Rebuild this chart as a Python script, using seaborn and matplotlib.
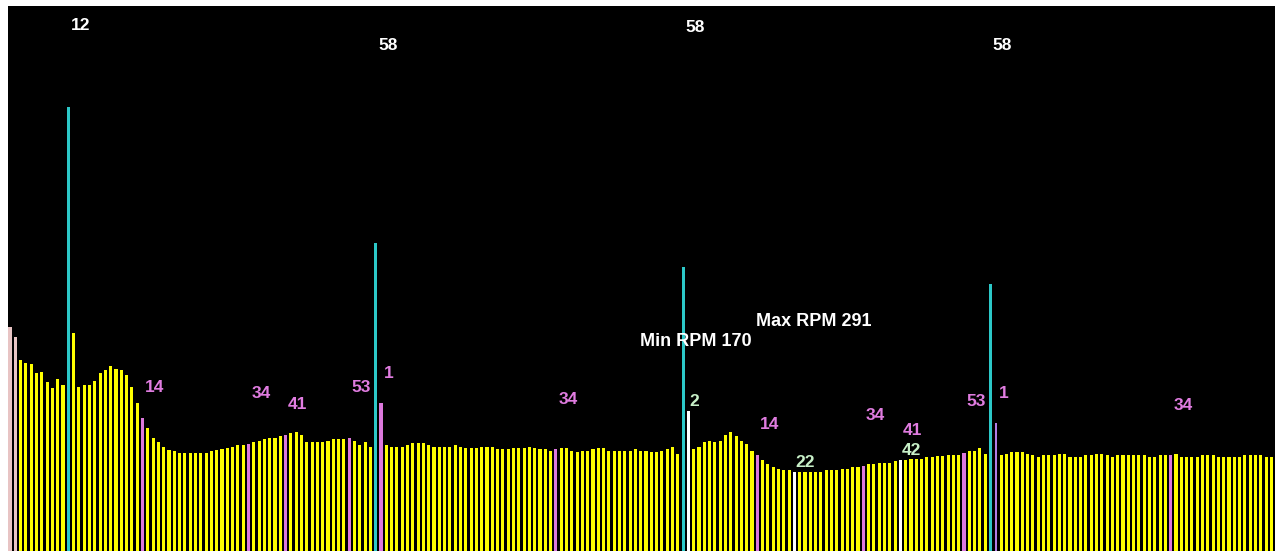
import matplotlib
matplotlib.use("Agg")
import matplotlib.pyplot as plt
import seaborn as sns
import pandas as pd

# Tooth-to-tooth period for every crank tooth, in display units
tooth_period = [
    224, 214, 191, 188, 187, 178, 179, 169, 163, 172, 166, 444, 218, 164, 166, 166,
    170, 178, 181, 185, 182, 181, 176, 164, 148, 133, 123, 113, 109, 104, 101, 100,
    98, 98, 98, 98, 98, 98, 100, 101, 102, 103, 104, 106, 106, 107, 109, 110,
    112, 113, 113, 115, 116, 118, 119, 116, 109, 109, 109, 109, 110, 112, 112, 112,
    113, 110, 106, 109, 104, 308, 148, 106, 104, 104, 104, 106, 108, 108, 108, 106,
    104, 104, 104, 104, 106, 104, 103, 103, 103, 104, 104, 104, 102, 102, 102, 103,
    103, 103, 104, 103, 102, 102, 100, 102, 103, 103, 100, 99, 100, 100, 102, 103,
    103, 100, 100, 100, 100, 100, 102, 100, 100, 99, 99, 100, 102, 104, 97, 284,
    140, 102, 104, 109, 110, 109, 110, 116, 119, 115, 110, 107, 100, 96, 91, 87,
    84, 82, 81, 81, 79, 79, 79, 79, 79, 79, 81, 81, 81, 82, 82, 84,
    84, 85, 87, 87, 88, 88, 88, 90, 91, 91, 92, 92, 92, 94, 94, 95,
    95, 96, 96, 96, 98, 100, 100, 103, 97, 267, 128, 96, 97, 99, 99, 99,
    97, 96, 94, 96, 96, 96, 97, 97, 94, 94, 94, 96, 96, 97, 97, 96,
    94, 96, 96, 96, 96, 96, 96, 94, 94, 96, 96, 96, 97, 94, 94, 94,
    94, 96, 96, 96, 94, 94, 94, 94, 94, 96, 96, 96, 96, 94, 94,
]

# Tooth categories
start_teeth = [0, 1]
gap_teeth = [11, 69, 127, 185]
marked_teeth = [25, 45, 52, 64, 70, 103, 141, 161, 180, 219]
sync_tooth = [186]
event_teeth = [128, 148, 168]

# Gap counts written above the missing-tooth markers
gap_text = ["12", "58", "58", "58"]
gap_text_height = [525, 505, 523, 505]

# Marked tooth numbers
mark_bars = [25, 45, 52, 64, 70, 103, 141, 161, 168, 180, 186, 219]
mark_text = ["14", "34", "41", "53", "1", "34", "14", "34", "41", "53", "1", "34"]
mark_height = [163, 158, 146.5, 164, 178, 152, 126.3, 135, 120.7, 149, 157.7, 145.5]

# Event numbers
event_text = ["2", "22", "42"]
event_height = [150, 88.3, 100.7]

rpm_text = ["Min RPM 170", "Max RPM 291"]
rpm_pos_x = [118.8, 140.8]
rpm_pos_y = [209.5, 229.3]

n = len(tooth_period)
kind = ["tooth"] * n
for i in start_teeth:
    kind[i] = "start"
for i in marked_teeth:
    kind[i] = "marked"
for i in sync_tooth:
    kind[i] = "sync"
for i in event_teeth:
    kind[i] = "event"
for i in gap_teeth:
    kind[i] = "gap"

df = pd.DataFrame({"tooth": list(range(n)), "period": tooth_period, "kind": kind})

palette = {
    "tooth": "#ffff00",
    "start": "#e8c4c4",
    "marked": "#dc78dc",
    "sync": "#b27ee6",
    "event": "#ffffff",
    "gap": "#2cc8c8",
}

sns.set_style("white")
plt.rcParams["font.family"] = ["Liberation Sans", "DejaVu Sans"]

fig = plt.figure(figsize=(12.75, 5.51), dpi=100, facecolor="white")
ax = fig.add_axes([8 / 1275, 0, 1267 / 1275, 545 / 551])
ax.set_facecolor("black")

sns.barplot(data=df, x="tooth", y="period", hue="kind", palette=palette,
            dodge=False, width=0.58, legend=False, ax=ax, linewidth=0,
            saturation=1)

# Thin sync tooth bar
for p in ax.patches:
    cx = p.get_x() + p.get_width() / 2
    if abs(cx - sync_tooth[0]) < 0.01:
        p.set_x(cx - 0.16)
        p.set_width(0.32)

ax.set_xlim(-0.377, 238.68)
ax.set_ylim(0, 545)
ax.set_xticks([])
ax.set_yticks([])
ax.set_xlabel("")
ax.set_ylabel("")
for s in ax.spines.values():
    s.set_visible(False)

fs = 12.5
for b, t, h in zip(gap_teeth, gap_text, gap_text_height):
    ax.text(b + 0.45, h, t, color="white", fontsize=fs, fontweight="bold",
            ha="left", va="center")
for b, t, h in zip(mark_bars, mark_text, mark_height):
    ax.text(b + 0.5, h, t, color="#e07ce0", fontsize=fs, fontweight="bold",
            ha="left", va="center")
for b, t, h in zip(event_teeth, event_text, event_height):
    ax.text(b + 0.2, h, t, color="#c8f0c8", fontsize=fs, fontweight="bold",
            ha="left", va="center")
for t, x, y in zip(rpm_text, rpm_pos_x, rpm_pos_y):
    ax.text(x, y, t, color="white", fontsize=fs + 0.5, fontweight="bold",
            ha="left", va="center")

fig.savefig("out.png", dpi=100, facecolor="white")
